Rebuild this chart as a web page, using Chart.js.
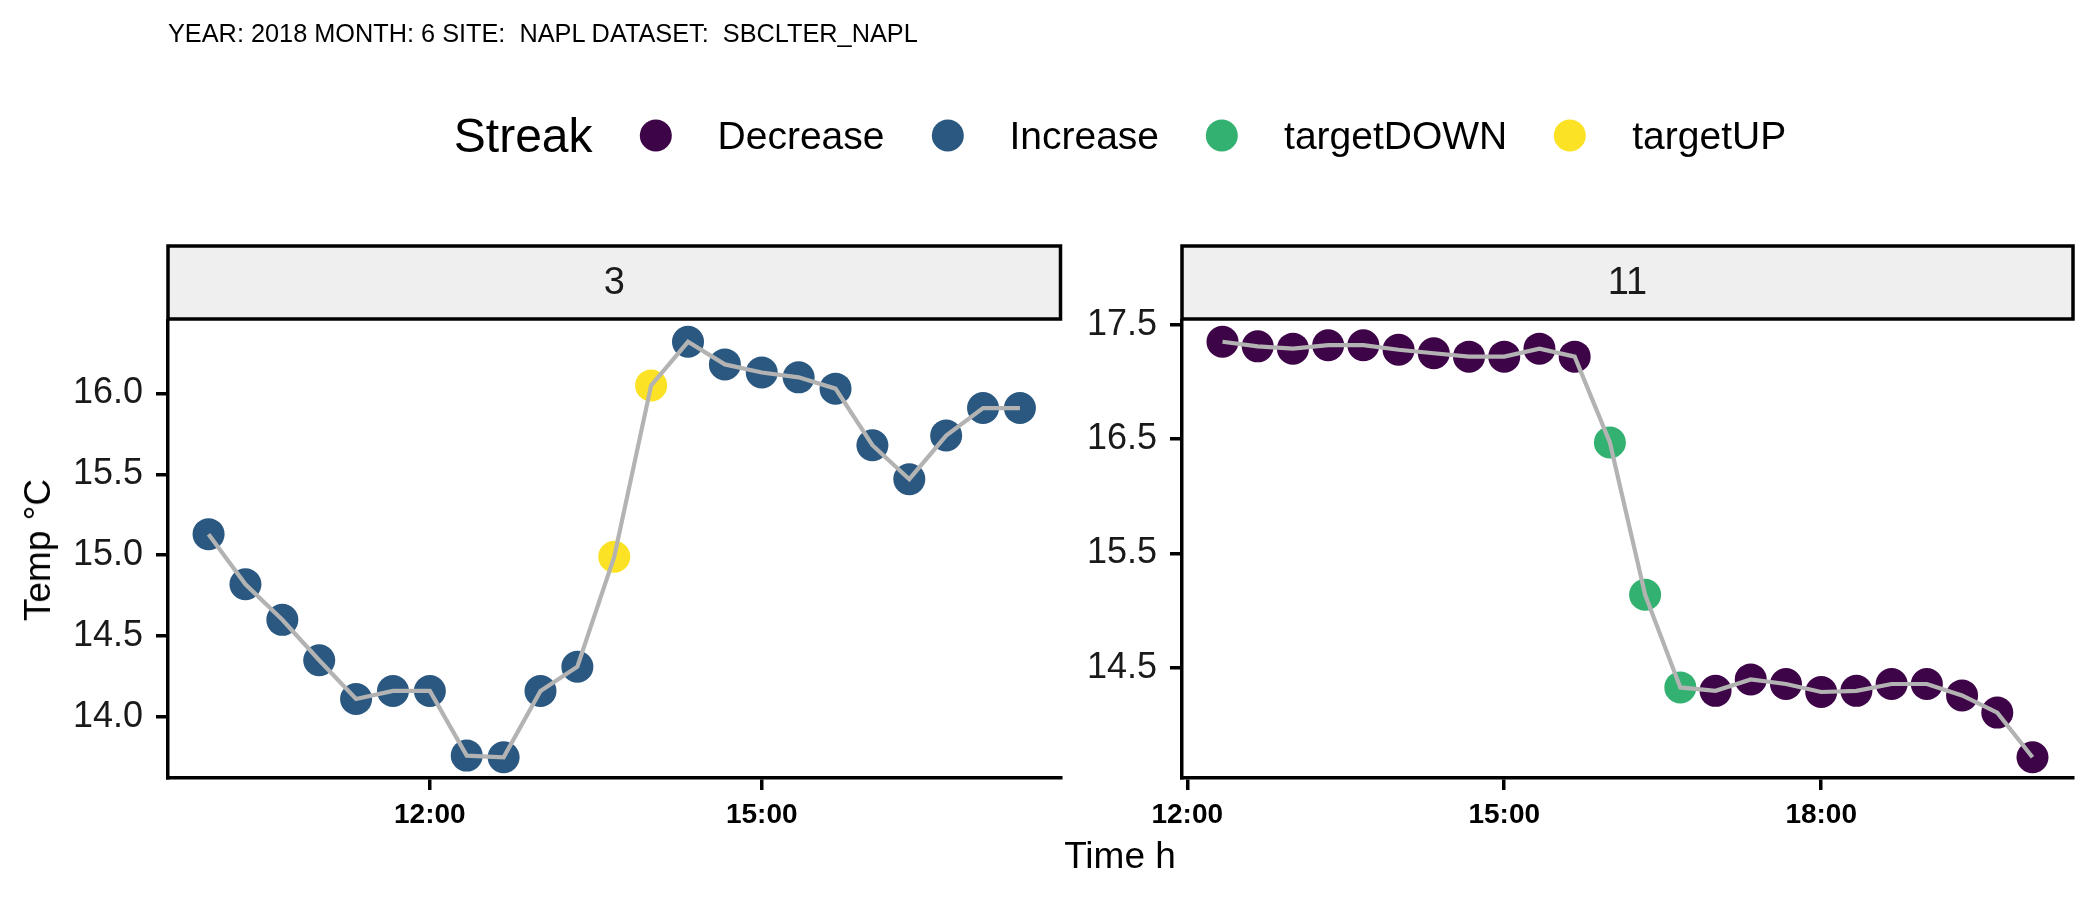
<!DOCTYPE html>
<html>
<head>
<meta charset="utf-8">
<script src="https://cdn.jsdelivr.net/npm/chart.js@4.4.0/dist/chart.umd.min.js"></script>
<style>
  body { margin: 0; background: #fff; }
  #wrap { position: relative; width: 2100px; height: 900px; font-family: "Liberation Sans", Arial, sans-serif; color: #000; overflow: hidden; }
  canvas { position: absolute; left: 0; top: 0; }
  #title { position: absolute; left: 168px; top: 33px; transform: translateY(-50%); font-size: 25.3px; white-space: pre; }
  #legend { position: absolute; left: 1120px; top: 135px; transform: translate(-50%, -50%); display: flex; align-items: center; white-space: nowrap; }
  #legend .ttl { font-size: 48px; margin-right: 47px; }
  #legend .dot { width: 32px; height: 32px; border-radius: 50%; margin-right: 46px; }
  #legend .lab { font-size: 39px; margin-right: 47px; }
  #legend .lab:last-child { margin-right: 0; }
  #ytitle { position: absolute; left: 38px; top: 550px; transform: translate(-50%, -50%) rotate(-90deg); font-size: 37px; white-space: nowrap; }
  #xtitle { position: absolute; left: 1120px; top: 856px; transform: translate(-50%, -50%); font-size: 37px; white-space: nowrap; }
</style>
</head>
<body>
<div id="wrap">
  <canvas id="c3" width="2100" height="900"></canvas>
  <canvas id="c11" width="2100" height="900"></canvas>
  <div id="title">YEAR: 2018 MONTH: 6 SITE:  NAPL DATASET:  SBCLTER_NAPL</div>
  <div id="legend"></div>
  <div id="ytitle">Temp °C</div>
  <div id="xtitle">Time h</div>
</div>
<script>
// streak categories and their colours
const streakNames = ["Decrease", "Increase", "targetDOWN", "targetUP"];
const streakColors = ["#3d0448", "#2a5880", "#33b170", "#fbe224"];

// facet "3"
const times3 = ["10:00", "10:20", "10:40", "11:00", "11:20", "11:40", "12:00", "12:20", "12:40", "13:00", "13:20", "13:40",
  "14:00", "14:20", "14:40", "15:00", "15:20", "15:40", "16:00", "16:20", "16:40", "17:00", "17:20"];
const temps3 = [15.13, 14.82, 14.60, 14.35, 14.11, 14.16, 14.16, 13.76, 13.75, 14.16, 14.31, 14.99,
  16.05, 16.32, 16.18, 16.13, 16.10, 16.03, 15.68, 15.47, 15.74, 15.91, 15.91];
const streaks3 = ["Increase", "Increase", "Increase", "Increase", "Increase", "Increase", "Increase", "Increase", "Increase", "Increase", "Increase", "targetUP",
  "targetUP", "Increase", "Increase", "Increase", "Increase", "Increase", "Increase", "Increase", "Increase", "Increase", "Increase"];
const xTicks3 = ["12:00", "15:00"];
const yTicks3 = [14.0, 14.5, 15.0, 15.5, 16.0];

// facet "11"
const times11 = ["12:20", "12:40", "13:00", "13:20", "13:40", "14:00", "14:20", "14:40", "15:00", "15:20", "15:40", "16:00",
  "16:20", "16:40", "17:00", "17:20", "17:40", "18:00", "18:20", "18:40", "19:00", "19:20", "19:40", "20:00"];
const temps11 = [17.35, 17.31, 17.29, 17.32, 17.32, 17.28, 17.25, 17.22, 17.22, 17.29, 17.22, 16.47,
  15.14, 14.33, 14.30, 14.40, 14.36, 14.29, 14.30, 14.36, 14.36, 14.26, 14.11, 13.72];
const streaks11 = ["Decrease", "Decrease", "Decrease", "Decrease", "Decrease", "Decrease", "Decrease", "Decrease", "Decrease", "Decrease", "Decrease", "targetDOWN",
  "targetDOWN", "targetDOWN", "Decrease", "Decrease", "Decrease", "Decrease", "Decrease", "Decrease", "Decrease", "Decrease", "Decrease", "Decrease"];
const xTicks11 = ["12:00", "15:00", "18:00"];
const yTicks11 = [14.5, 15.5, 16.5, 17.5];

const fontFamily = "'Liberation Sans', Arial, sans-serif";

function hours(t) {
  const [h, m] = t.split(":").map(Number);
  return h + m / 60;
}

function fmtTime(v) {
  const h = Math.floor(v + 1e-6);
  const m = Math.round((v - h) * 60);
  return String(h).padStart(2, "0") + ":" + String(m).padStart(2, "0");
}

// ggplot style 5% expansion
function expand(arr) {
  const lo = Math.min(...arr), hi = Math.max(...arr);
  const e = (hi - lo) * 0.05;
  return [lo - e, hi + e];
}

// legend
const legend = document.getElementById("legend");
legend.innerHTML = '<span class="ttl">Streak</span>';
streakNames.forEach((name, i) => {
  legend.innerHTML += '<span class="dot" style="background:' + streakColors[i] + '"></span><span class="lab">' + name + '</span>';
});

// facet strip drawn above the plot area
const stripPlugin = {
  id: "strip",
  afterDraw(chart, args, opts) {
    const { ctx, chartArea } = chart;
    const w = chartArea.right - chartArea.left;
    ctx.save();
    ctx.fillStyle = "#efefef";
    ctx.fillRect(chartArea.left, chartArea.top - 75, w, 73);
    ctx.lineWidth = 3.5;
    ctx.strokeStyle = "#000";
    ctx.strokeRect(chartArea.left, chartArea.top - 75, w, 73);
    ctx.fillStyle = "#1a1a1a";
    ctx.font = "38px " + fontFamily;
    ctx.textAlign = "center";
    ctx.textBaseline = "middle";
    ctx.fillText(opts.text, (chartArea.left + chartArea.right) / 2, chartArea.top - 37);
    ctx.restore();
  }
};

function makePanel(id, label, times, temps, streaks, xTicks, yTicks, left, right) {
  const pts = times.map((t, i) => ({ x: hours(t), y: temps[i] }));
  const datasets = [{
    type: "line",
    data: pts,
    borderColor: "#b3b3b3",
    borderWidth: 4.2,
    pointRadius: 0,
    fill: false,
    tension: 0,
    order: 0
  }];
  streakNames.forEach((name, i) => {
    const d = pts.filter((p, j) => streaks[j] === name);
    if (d.length) {
      datasets.push({
        type: "scatter",
        data: d,
        backgroundColor: streakColors[i],
        borderWidth: 0,
        pointRadius: 16,
        pointHoverRadius: 16,
        order: 1
      });
    }
  });

  const [xmin, xmax] = expand(pts.map(p => p.x));
  const [ymin, ymax] = expand(temps);

  return new Chart(document.getElementById(id), {
    type: "scatter",
    data: { datasets: datasets },
    plugins: [stripPlugin],
    options: {
      responsive: false,
      animation: false,
      devicePixelRatio: 1,
      layout: { padding: { left: 0, top: 321, right: 2100 - right, bottom: 0 } },
      plugins: {
        legend: { display: false },
        tooltip: { enabled: false },
        strip: { text: label }
      },
      scales: {
        x: {
          type: "linear",
          min: xmin,
          max: xmax,
          afterFit(s) { s.height = 122; },
          afterBuildTicks(s) { s.ticks = xTicks.map(t => ({ value: hours(t) })); },
          grid: { drawOnChartArea: false, drawTicks: true, tickLength: 12, color: "#000", lineWidth: 3.5 },
          border: { display: true, color: "#000", width: 3.5 },
          ticks: {
            color: "#000",
            padding: 8,
            maxRotation: 0,
            autoSkip: false,
            font: { family: fontFamily, size: 28, weight: "bold" },
            callback: v => fmtTime(v)
          }
        },
        y: {
          type: "linear",
          min: ymin,
          max: ymax,
          afterFit(s) { s.width = left; },
          afterBuildTicks(s) { s.ticks = yTicks.map(v => ({ value: v })); },
          grid: { drawOnChartArea: false, drawTicks: true, tickLength: 12, color: "#000", lineWidth: 3.5 },
          border: { display: true, color: "#000", width: 3.5 },
          ticks: {
            color: "#1a1a1a",
            padding: 13,
            autoSkip: false,
            font: { family: fontFamily, size: 36 },
            callback: v => Number(v).toFixed(1)
          }
        }
      }
    }
  });
}

makePanel("c3", "3", times3, temps3, streaks3, xTicks3, yTicks3, 168, 1060.5);
makePanel("c11", "11", times11, temps11, streaks11, xTicks11, yTicks11, 1182, 2073);
</script>
</body>
</html>
